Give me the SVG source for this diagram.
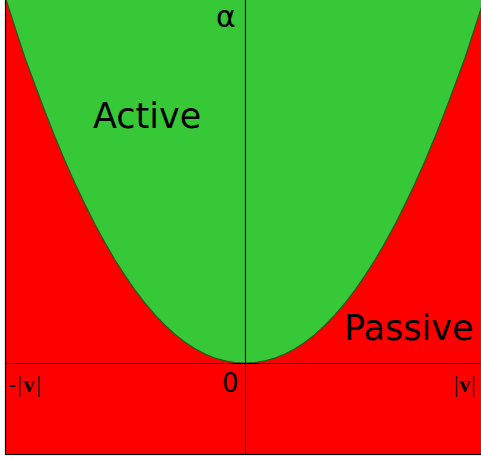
<svg xmlns="http://www.w3.org/2000/svg" width="481" height="459" viewBox="0 0 481 459">
<style>
.lbl{font-family:"DejaVu Sans",sans-serif;fill:#000}
.ser{font-family:"Liberation Serif","Times New Roman",serif;fill:#000;font-size:23px}
.axis{stroke:#000;stroke-width:1.1;fill:none}
</style>
<rect width="481" height="459" fill="#fff"/>
<g id="passive-region">
<rect x="5.5" y="-1" width="480" height="455.5" fill="#ff0000" stroke="#000" stroke-width="1.2"/>
</g>
<g id="active-region">
<path d="M5,-3.55 L15,27.35 L25,57.94 L35,84.96 L45,111.64 L55,136.96 L65,160.89 L75,183.44 L85,204.62 L95,224.42 L105,242.86 L115,259.95 L125,275.68 L135,290.08 L145,303.13 L155,314.86 L165,325.28 L175,334.39 L185,342.21 L195,348.74 L205,354.02 L215,358.05 L225,360.86 L235,362.49 L245,363 L255,362.49 L265,360.86 L275,358.05 L285,354.02 L295,348.74 L305,342.21 L315,334.39 L325,325.28 L335,314.86 L345,303.13 L355,290.08 L365,275.68 L375,259.95 L385,242.86 L395,224.42 L405,204.62 L415,183.44 L425,160.89 L435,136.96 L445,111.64 L455,84.96 L465,57.94 L475,27.35 L485,-3.55 Z" fill="#37c837" stroke="#1f5a1f" stroke-width="1.2" stroke-linejoin="round"/>
</g>
<g id="connectors">
<line class="axis" x1="245.5" y1="0" x2="245.5" y2="455"/>
<line class="axis" x1="5" y1="363.5" x2="481" y2="363.5"/>
</g>
<g id="labels">
<text class="lbl" x="216" y="27" font-size="30">α</text>
<text class="lbl" x="93" y="128" font-size="35">Active</text>
<text class="lbl" x="344" y="340" font-size="35">Passive</text>
<text class="lbl" x="222" y="392" font-size="26">0</text>
<text class="ser" x="8" y="392" letter-spacing="1.5">-|<tspan font-weight="bold">v</tspan>|</text>
<text class="ser" x="454" y="392" letter-spacing="0.5">|<tspan font-weight="bold">v</tspan>|</text>
</g>
</svg>
